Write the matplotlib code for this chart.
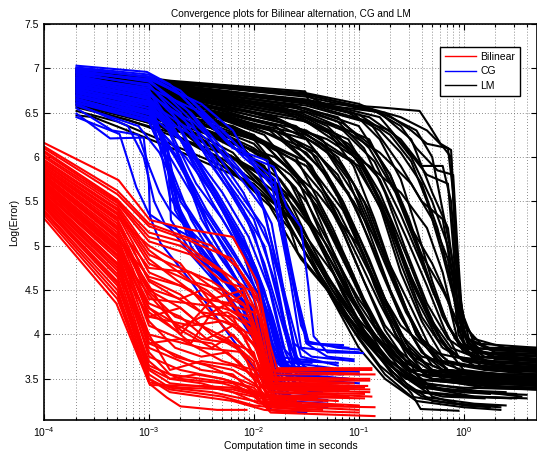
import numpy as np
import matplotlib
matplotlib.use("Agg")
import matplotlib.pyplot as plt
from matplotlib.ticker import LogLocator, FixedLocator, FuncFormatter, NullFormatter
from matplotlib.lines import Line2D

plt.rcParams['font.family'] = ['Liberation Sans', 'DejaVu Sans']

# Each curve: list of (log10(time in s), log(error)) points
bilinear_lines = [
    [(-4,6.16),(-3.29,5.74),(-2.99,5.29),(-2.6,5.18),(-2.2,5.1),(-1.97,4.6),(-1.85,3.9),(-1.78,3.62),(-0.88,3.62)],
    [(-4,6.10),(-3.3,5.58),(-3.0,5.22),(-2.6,5.05),(-2.2,4.85),(-1.92,4.3),(-1.82,3.55),(-0.85,3.55)],
    [(-4,6.05),(-3.3,5.5),(-3.0,5.1),(-2.7,5.0),(-2.3,4.7),(-2.0,4.3),(-1.88,3.7),(-1.8,3.48),(-0.9,3.48)],
    [(-4,6.0),(-3.3,5.45),(-3.0,4.95),(-2.6,4.6),(-2.3,4.5),(-2.0,4.0),(-1.85,3.45),(-1.0,3.42)],
    [(-4,5.95),(-3.3,5.4),(-3.0,4.85),(-2.5,4.4),(-2.2,4.35),(-1.97,3.9),(-1.84,3.35),(-0.88,3.3)],
    [(-4,5.92),(-3.3,5.35),(-3.0,4.7),(-2.6,4.5),(-2.3,4.1),(-2.0,3.75),(-1.88,3.5),(-1.1,3.45)],
    [(-4,5.88),(-3.3,5.3),(-3.0,4.6),(-2.5,4.25),(-2.2,4.2),(-1.93,3.6),(-1.84,3.38),(-0.9,3.35)],
    [(-4,5.85),(-3.3,5.25),(-3.0,4.5),(-2.7,4.3),(-2.4,4.0),(-2.0,3.8),(-1.88,3.3),(-1.2,3.25)],
    [(-4,5.82),(-3.3,5.2),(-3.0,4.4),(-2.6,4.35),(-2.3,4.3),(-2.05,4.2),(-1.88,3.6),(-1.8,3.4),(-0.95,3.4)],
    [(-4,5.8),(-3.3,5.15),(-3.0,4.3),(-2.5,3.95),(-2.2,3.9),(-1.93,3.5),(-1.84,3.25),(-1.0,3.2)],
    [(-4,5.76),(-3.3,5.1),(-3.0,4.2),(-2.6,4.1),(-2.3,4.15),(-2.02,4.0),(-1.88,3.45),(-1.3,3.42)],
    [(-4,5.72),(-3.3,5.05),(-3.0,4.1),(-2.7,3.95),(-2.3,3.7),(-2.0,3.6),(-1.92,3.4),(-1.5,3.35)],
    [(-4,5.7),(-3.3,5.0),(-3.0,4.0),(-2.5,3.85),(-2.1,3.8),(-1.93,3.3),(-1.84,3.2),(-0.85,3.18)],
    [(-4,5.66),(-3.3,4.95),(-3.0,3.9),(-2.6,3.7),(-2.2,3.6),(-2.0,3.45),(-1.88,3.3),(-1.4,3.28)],
    [(-4,5.62),(-3.3,4.9),(-3.0,3.85),(-2.5,3.6),(-2.2,3.55),(-1.97,3.3),(-1.84,3.12),(-0.85,3.08)],
    [(-4,5.6),(-3.3,4.85),(-3.0,3.75),(-2.7,3.6),(-2.3,3.5),(-2.0,3.4),(-1.92,3.3),(-1.6,3.25)],
    [(-4,5.56),(-3.3,4.8),(-3.0,3.65),(-2.7,3.5),(-2.3,3.45),(-2.0,3.35),(-1.84,3.22),(-1.15,3.2)],
    [(-4,5.52),(-3.3,4.72),(-3.0,3.6),(-2.8,3.45),(-2.4,3.4),(-2.0,3.3),(-1.88,3.18),(-1.5,3.15)],
    [(-4,5.48),(-3.3,4.65),(-3.0,3.55),(-2.8,3.4),(-2.4,3.35),(-2.0,3.25),(-1.7,3.22)],
    [(-4,5.45),(-3.3,4.58),(-3.0,3.5),(-2.8,3.38),(-2.3,3.3),(-2.0,3.2),(-1.84,3.18),(-1.35,3.15)],
    [(-4,5.4),(-3.3,4.5),(-3.0,3.46),(-2.7,3.4),(-2.2,3.38),(-1.93,3.3),(-1.6,3.3)],
    [(-4,5.35),(-3.3,4.4),(-2.99,3.44),(-2.83,3.29),(-2.7,3.19),(-2.35,3.15),(-2.07,3.15)],
    [(-4,5.31),(-3.31,4.35),(-2.99,3.43),(-2.5,3.42),(-2.2,3.4),(-1.93,3.32),(-1.2,3.3)],
    [(-4,5.78),(-3.3,5.1),(-3.0,4.55),(-2.7,4.0),(-2.4,4.4),(-2.1,4.5),(-1.97,4.0),(-1.84,3.52),(-1.05,3.5)],
    [(-4,5.68),(-3.3,4.98),(-3.0,4.3),(-2.6,3.9),(-2.4,4.25),(-2.1,4.45),(-1.93,3.9),(-1.82,3.4),(-0.9,3.38)],
    [(-4,5.58),(-3.3,4.8),(-3.0,4.2),(-2.7,4.3),(-2.4,4.0),(-2.1,3.8),(-1.93,3.55),(-1.75,3.45),(-1.2,3.45)],
    [(-4,5.9),(-3.3,5.32),(-3.0,5.0),(-2.7,4.8),(-2.3,4.2),(-2.0,3.9),(-1.88,3.55),(-1.8,3.3),(-0.95,3.28)],
    [(-4,6.02),(-3.3,5.48),(-3.0,5.05),(-2.6,4.9),(-2.3,4.6),(-2.02,4.5),(-1.88,3.95),(-1.8,3.58),(-1.0,3.56)],
    [(-4,5.5),(-3.3,4.68),(-3.0,4.0),(-2.8,3.6),(-2.5,3.7),(-2.2,3.65),(-2.0,3.55),(-1.88,3.35),(-1.25,3.33)],
    [(-4,5.75),(-3.3,5.08),(-3.0,4.65),(-2.7,4.55),(-2.4,4.35),(-2.1,4.05),(-1.93,3.75),(-1.84,3.5),(-1.4,3.5)],
    [(-4,5.64),(-3.3,4.93),(-3.0,4.45),(-2.7,4.05),(-2.4,3.85),(-2.2,4.0),(-1.97,3.7),(-1.88,3.4),(-1.1,3.37)],
    [(-4,5.84),(-3.3,5.22),(-3.0,4.75),(-2.6,4.7),(-2.3,4.45),(-2.05,4.3),(-1.92,3.8),(-1.84,3.42),(-0.92,3.42)],
    [(-4,6.07),(-3.3,5.52),(-3.0,5.15),(-2.7,5.05),(-2.4,4.8),(-2.1,4.55),(-1.95,4.2),(-1.82,3.45),(-1.05,3.45)],
    [(-4,5.97),(-3.3,5.42),(-3.0,4.9),(-2.7,4.75),(-2.4,4.6),(-2.1,4.35),(-1.93,3.85),(-1.85,3.28),(-1.3,3.25)],
    [(-4,5.87),(-3.3,5.28),(-3.0,4.62),(-2.7,4.45),(-2.45,4.2),(-2.15,4.1),(-1.95,3.65),(-1.85,3.35),(-0.95,3.33)],
    [(-4,5.79),(-3.3,5.12),(-3.0,4.48),(-2.75,4.2),(-2.5,4.1),(-2.25,3.95),(-2.0,3.7),(-1.9,3.2),(-1.0,3.15)],
    [(-4,5.73),(-3.3,5.03),(-3.0,4.35),(-2.7,4.2),(-2.45,3.95),(-2.2,4.1),(-1.97,3.85),(-1.86,3.45),(-1.35,3.44)],
    [(-4,5.67),(-3.3,4.96),(-3.0,4.15),(-2.75,3.85),(-2.5,3.75),(-2.25,3.8),(-2.0,3.5),(-1.9,3.25),(-1.55,3.22)],
    [(-4,5.61),(-3.3,4.88),(-3.0,3.95),(-2.75,3.75),(-2.45,3.65),(-2.15,3.5),(-1.95,3.4),(-1.85,3.15),(-1.0,3.12)],
    [(-4,5.55),(-3.3,4.78),(-3.0,3.8),(-2.8,3.55),(-2.5,3.5),(-2.2,3.45),(-1.95,3.28),(-1.7,3.25)],
    [(-4,5.46),(-3.3,4.6),(-3.0,3.7),(-2.8,3.5),(-2.5,3.45),(-2.2,3.35),(-1.95,3.22),(-1.5,3.2)],
    [(-4,5.38),(-3.3,4.45),(-3.0,3.5),(-2.8,3.35),(-2.5,3.3),(-2.2,3.25),(-1.9,3.15),(-1.6,3.12)],
    [(-4,6.12),(-3.3,5.62),(-3.0,5.25),(-2.7,5.12),(-2.4,5.0),(-2.15,4.75),(-1.97,4.45),(-1.85,3.75),(-1.78,3.5),(-0.9,3.5)],
    [(-4,5.93),(-3.3,5.37),(-3.0,4.8),(-2.7,4.65),(-2.45,4.5),(-2.2,4.25),(-2.0,4.1),(-1.9,3.5),(-1.82,3.3),(-1.1,3.3)],
    [(-4,5.83),(-3.3,5.18),(-3.0,4.52),(-2.7,4.4),(-2.5,4.5),(-2.3,4.35),(-2.0,4.25),(-1.88,3.7),(-1.8,3.6),(-0.88,3.6)],
    [(-4,5.71),(-3.3,5.0),(-3.0,4.25),(-2.75,4.05),(-2.5,4.2),(-2.25,4.25),(-2.0,4.05),(-1.9,3.6),(-1.82,3.38),(-1.2,3.37)],
    [(-4,5.53),(-3.3,4.75),(-3.0,3.9),(-2.7,3.95),(-2.4,3.9),(-2.15,3.7),(-1.95,3.45),(-1.85,3.3),(-1.45,3.28)],
    [(-4,5.43),(-3.3,4.55),(-3.0,3.62),(-2.8,3.5),(-2.55,3.55),(-2.3,3.5),(-2.05,3.4),(-1.9,3.3),(-1.7,3.28)],
]

cg_lines = [
    [(-3.69,6.49),(-3.37,6.21),(-3.05,6.22),(-3.0,5.7),(-2.99,5.33),(-2.89,5.03),(-2.6,4.6),(-2.3,4.1),(-2.05,3.7),(-1.9,3.45),(-1.5,3.4)],
    [(-3.69,6.45),(-3.28,6.26),(-3.2,5.96),(-3.12,5.66),(-3.0,5.36),(-2.8,5.2),(-2.6,4.9),(-2.3,4.5),(-2.0,4.0),(-1.85,3.6),(-1.4,3.55)],
    [(-3.69,6.6),(-3.2,6.35),(-3.05,6.0),(-2.95,5.5),(-2.85,5.25),(-2.6,5.1),(-2.4,4.7),(-2.1,4.2),(-1.9,3.8),(-1.7,3.6),(-1.3,3.55)],
    [(-3.69,6.55),(-3.35,6.3),(-3.1,6.25),(-3.0,5.9),(-2.9,5.6),(-2.8,5.4),(-2.5,5.05),(-2.2,4.5),(-1.95,3.9),(-1.8,3.7),(-1.45,3.68)],
    [(-3.69,7.03),(-3.02,6.96),(-2.8,6.82),(-2.13,6.04),(-1.81,5.89),(-1.69,5.44),(-1.55,5.21),(-1.48,4.54),(-1.43,3.98),(-1.3,3.8),(-0.96,3.79)],
    [(-3.69,7.0),(-3.0,6.9),(-2.7,6.7),(-2.2,6.1),(-1.87,5.96),(-1.75,5.2),(-1.6,4.5),(-1.5,3.9),(-1.3,3.75),(-1.05,3.72)],
    [(-3.69,6.98),(-3.0,6.85),(-2.6,6.5),(-2.3,6.1),(-1.95,5.6),(-1.8,4.9),(-1.65,4.2),(-1.55,3.75),(-1.2,3.65)],
    [(-3.69,6.95),(-3.0,6.8),(-2.7,6.5),(-2.4,5.9),(-2.1,5.4),(-1.9,4.8),(-1.7,4.0),(-1.6,3.6),(-1.15,3.55)],
    [(-3.69,6.92),(-3.0,6.75),(-2.8,6.4),(-2.5,5.8),(-2.2,5.2),(-1.95,4.6),(-1.8,3.9),(-1.65,3.5),(-1.1,3.45)],
    [(-3.69,6.9),(-3.0,6.7),(-2.86,6.08),(-2.7,5.5),(-2.4,5.0),(-2.1,4.5),(-1.85,3.8),(-1.7,3.45),(-1.25,3.4)],
    [(-3.69,6.88),(-3.0,6.72),(-2.7,6.45),(-2.45,6.2),(-2.1,5.6),(-1.85,5.0),(-1.7,4.1),(-1.6,3.7),(-1.2,3.68)],
    [(-3.69,6.85),(-3.0,6.65),(-2.8,6.3),(-2.55,5.7),(-2.3,5.3),(-2.0,4.7),(-1.8,4.0),(-1.72,3.55),(-1.3,3.5)],
    [(-3.69,6.82),(-3.0,6.6),(-2.85,6.1),(-2.75,5.4),(-2.5,4.9),(-2.2,4.3),(-1.95,3.85),(-1.8,3.4),(-1.35,3.35)],
    [(-3.69,6.8),(-3.0,6.62),(-2.6,6.3),(-2.3,5.8),(-2.0,5.3),(-1.8,4.6),(-1.65,3.85),(-1.5,3.6),(-1.0,3.58)],
    [(-3.69,6.78),(-3.0,6.55),(-2.8,6.0),(-2.6,5.6),(-2.3,5.0),(-2.0,4.4),(-1.85,3.7),(-1.75,3.3),(-1.4,3.28)],
    [(-3.69,6.75),(-3.0,6.5),(-2.82,6.05),(-2.79,5.29),(-2.59,4.92),(-2.2,4.54),(-2.0,4.17),(-1.81,3.72),(-1.84,3.15),(-1.5,3.12)],
    [(-3.69,6.72),(-3.0,6.55),(-2.7,6.2),(-2.4,5.5),(-2.1,4.9),(-1.9,4.2),(-1.8,3.6),(-1.7,3.25),(-1.3,3.22)],
    [(-3.69,6.7),(-3.0,6.45),(-2.75,6.1),(-2.5,5.3),(-2.2,4.7),(-1.95,4.1),(-1.85,3.5),(-1.75,3.2),(-1.45,3.18)],
    [(-3.69,6.68),(-3.0,6.5),(-2.5,6.2),(-2.2,5.7),(-1.9,5.2),(-1.72,4.5),(-1.6,3.8),(-1.55,3.55),(-1.1,3.5)],
    [(-3.69,6.65),(-3.0,6.4),(-2.8,5.9),(-2.6,5.3),(-2.35,4.8),(-2.05,4.3),(-1.88,3.7),(-1.8,3.35),(-1.6,3.3)],
    [(-3.69,6.62),(-3.0,6.42),(-2.65,6.0),(-2.4,5.6),(-2.05,4.9),(-1.85,4.3),(-1.72,3.7),(-1.6,3.4),(-1.2,3.36)],
    [(-3.69,6.95),(-3.0,6.88),(-2.5,6.6),(-2.2,6.3),(-2.0,5.9),(-1.8,5.5),(-1.65,4.6),(-1.55,3.85),(-1.3,3.82),(-1.0,3.8)],
    [(-3.69,6.86),(-3.0,6.7),(-2.6,6.4),(-2.35,5.9),(-2.15,5.5),(-1.9,5.0),(-1.75,4.3),(-1.62,3.6),(-1.2,3.58)],
    [(-3.69,6.9),(-3.0,6.78),(-2.5,6.5),(-2.1,6.0),(-1.8,5.7),(-1.7,5.0),(-1.58,4.3),(-1.48,3.9),(-1.1,3.85)],
    [(-3.69,6.76),(-3.0,6.6),(-2.75,6.3),(-2.55,5.9),(-2.3,5.4),(-2.05,4.8),(-1.85,4.2),(-1.75,3.7),(-1.25,3.62)],
    [(-3.69,6.7),(-3.0,6.52),(-2.85,6.2),(-2.65,5.8),(-2.4,5.1),(-2.15,4.6),(-1.95,4.0),(-1.82,3.45),(-1.5,3.4)],
    [(-3.69,7.01),(-3.0,6.93),(-2.7,6.75),(-2.35,6.35),(-2.0,5.95),(-1.8,5.75),(-1.7,5.1),(-1.58,4.4),(-1.48,3.92),(-1.2,3.85),(-1.0,3.83)],
    [(-3.69,6.97),(-3.0,6.87),(-2.75,6.6),(-2.45,6.25),(-2.15,5.8),(-1.9,5.4),(-1.75,4.6),(-1.62,3.9),(-1.45,3.75),(-1.05,3.7)],
    [(-3.69,6.93),(-3.0,6.82),(-2.8,6.55),(-2.55,6.0),(-2.3,5.6),(-2.05,5.1),(-1.85,4.5),(-1.72,3.85),(-1.55,3.62),(-1.15,3.6)],
    [(-3.69,6.89),(-3.0,6.76),(-2.85,6.4),(-2.65,5.85),(-2.45,5.3),(-2.2,4.85),(-1.95,4.35),(-1.8,3.8),(-1.65,3.5),(-1.3,3.48)],
    [(-3.69,6.84),(-3.0,6.68),(-2.9,6.3),(-2.8,5.8),(-2.65,5.2),(-2.35,4.75),(-2.05,4.2),(-1.87,3.65),(-1.75,3.35),(-1.4,3.32)],
    [(-3.69,6.79),(-3.0,6.63),(-2.88,6.2),(-2.78,5.6),(-2.6,5.0),(-2.3,4.5),(-2.02,4.0),(-1.85,3.55),(-1.7,3.28),(-1.35,3.25)],
    [(-3.69,6.74),(-3.0,6.58),(-2.65,6.15),(-2.35,5.6),(-2.1,5.1),(-1.9,4.5),(-1.78,3.95),(-1.68,3.6),(-1.25,3.55)],
    [(-3.69,6.69),(-3.0,6.48),(-2.6,6.1),(-2.3,5.45),(-2.05,4.95),(-1.88,4.4),(-1.76,3.8),(-1.65,3.4),(-1.3,3.38)],
    [(-3.69,6.64),(-3.0,6.45),(-2.7,5.95),(-2.45,5.4),(-2.2,4.95),(-1.95,4.45),(-1.82,3.9),(-1.7,3.6),(-1.18,3.55)],
    [(-3.69,6.58),(-3.1,6.35),(-2.9,6.05),(-2.7,5.55),(-2.45,5.1),(-2.15,4.6),(-1.92,4.05),(-1.8,3.75),(-1.4,3.7)],
    [(-3.69,6.99),(-3.0,6.91),(-2.6,6.65),(-2.25,6.25),(-1.95,5.85),(-1.78,5.6),(-1.66,4.8),(-1.55,4.1),(-1.47,3.9),(-1.15,3.88)],
    [(-3.69,6.96),(-3.0,6.86),(-2.65,6.55),(-2.3,6.05),(-2.0,5.65),(-1.83,5.25),(-1.7,4.4),(-1.6,3.72),(-1.45,3.58),(-1.0,3.55)],
    [(-3.69,6.87),(-3.0,6.74),(-2.75,6.45),(-2.5,6.1),(-2.25,5.65),(-2.0,5.15),(-1.82,4.4),(-1.7,3.8),(-1.55,3.45),(-1.2,3.42)],
    [(-3.69,6.81),(-3.0,6.66),(-2.78,6.35),(-2.55,5.95),(-2.3,5.45),(-2.05,4.95),(-1.88,4.2),(-1.76,3.5),(-1.6,3.2),(-1.3,3.18)],
    [(-3.69,6.77),(-3.0,6.6),(-2.82,6.1),(-2.72,5.45),(-2.5,4.95),(-2.25,4.55),(-2.0,4.25),(-1.85,3.9),(-1.75,3.65),(-1.2,3.6)],
    [(-3.69,6.73),(-3.0,6.52),(-2.9,6.15),(-2.8,5.55),(-2.55,5.05),(-2.3,4.65),(-2.05,4.3),(-1.9,3.95),(-1.78,3.55),(-1.1,3.5)],
    [(-3.69,6.66),(-3.0,6.44),(-2.75,6.0),(-2.5,5.45),(-2.25,5.0),(-2.0,4.55),(-1.85,4.15),(-1.72,3.75),(-1.6,3.45),(-1.05,3.4)],
    [(-3.69,6.61),(-3.0,6.4),(-2.85,6.0),(-2.7,5.35),(-2.45,4.85),(-2.15,4.4),(-1.92,3.95),(-1.8,3.6),(-1.65,3.3),(-1.3,3.26)],
    [(-3.69,6.83),(-3.0,6.67),(-2.7,6.3),(-2.45,5.75),(-2.2,5.25),(-1.98,4.75),(-1.82,4.2),(-1.7,3.7),(-1.55,3.5),(-1.0,3.45)],
]

lm_lines = [
    [(-3.69,7.0),(-2.79,6.86),(-1.51,6.74),(-1.48,6.64),(-1.29,6.6),(-0.8,6.56),(-0.42,6.52),(-0.32,6.34),(-0.22,6.15),(-0.12,6.08),(-0.08,5.2),(-0.03,4.2),(0.0,4.0),(0.15,3.84),(0.7,3.8)],
    [(-3.69,6.98),(-2.8,6.84),(-1.5,6.7),(-1.3,6.58),(-0.75,6.5),(-0.5,6.3),(-0.35,6.15),(-0.15,6.1),(-0.1,5.6),(-0.05,4.5),(0.0,3.9),(0.2,3.75),(0.7,3.72)],
    [(-3.69,6.95),(-2.8,6.8),(-1.5,6.65),(-0.8,6.45),(-0.55,6.1),(-0.35,5.8),(-0.15,5.7),(-0.1,5.0),(-0.05,4.2),(0.05,3.85),(0.7,3.82)],
    [(-3.69,6.92),(-2.5,6.75),(-1.5,6.6),(-0.9,6.4),(-0.6,5.9),(-0.4,5.5),(-0.2,5.3),(-0.1,4.6),(-0.05,4.0),(0.1,3.7),(0.7,3.65)],
    [(-3.69,6.9),(-2.5,6.7),(-1.5,6.55),(-1.0,6.35),(-0.7,5.8),(-0.5,5.2),(-0.3,4.8),(-0.15,4.4),(-0.05,3.9),(0.2,3.6),(0.7,3.55)],
    [(-3.69,6.88),(-2.5,6.65),(-1.6,6.45),(-1.1,6.2),(-0.8,5.6),(-0.55,4.9),(-0.35,4.3),(-0.2,3.9),(0.0,3.6),(0.7,3.5)],
    [(-3.69,6.85),(-2.5,6.6),(-1.6,6.35),(-1.2,6.0),(-0.9,5.4),(-0.65,4.6),(-0.45,4.0),(-0.25,3.7),(0.1,3.55),(0.7,3.5)],
    [(-3.69,6.82),(-2.5,6.55),(-1.7,6.25),(-1.3,5.8),(-1.0,5.1),(-0.75,4.4),(-0.55,3.9),(-0.3,3.6),(0.3,3.45),(0.7,3.42)],
    [(-3.69,6.8),(-2.5,6.5),(-1.8,6.1),(-1.4,5.5),(-1.1,4.8),(-0.85,4.1),(-0.6,3.7),(-0.35,3.45),(0.2,3.35),(0.55,3.3)],
    [(-3.69,6.78),(-2.6,6.45),(-1.9,6.0),(-1.5,5.3),(-1.2,4.6),(-0.9,3.9),(-0.65,3.5),(-0.4,3.3),(0.1,3.22),(0.4,3.2)],
    [(-3.69,6.75),(-2.6,6.4),(-1.9,5.9),(-1.55,5.1),(-1.3,4.5),(-1.0,3.85),(-0.75,3.5),(-0.45,3.25),(0.0,3.18),(0.35,3.15)],
    [(-3.69,6.72),(-2.7,6.35),(-1.8,5.7),(-1.58,4.92),(-1.32,4.54),(-1.15,4.28),(-0.83,3.79),(-0.5,3.34),(-0.41,3.16),(-0.05,3.14)],
    [(-3.69,6.7),(-2.7,6.3),(-1.61,5.29),(-1.4,4.8),(-1.1,4.3),(-0.8,3.9),(-0.55,3.6),(-0.3,3.5),(0.3,3.45),(0.7,3.42)],
    [(-3.69,6.47),(-3.53,6.45),(-3.12,6.26),(-2.8,6.11),(-2.0,5.7),(-1.6,5.25),(-1.3,4.6),(-1.0,4.0),(-0.7,3.6),(-0.45,3.35),(0.0,3.3),(0.45,3.28)],
    [(-3.69,6.6),(-3.0,6.4),(-2.5,6.2),(-1.9,5.8),(-1.6,5.5),(-1.3,5.0),(-1.0,4.4),(-0.7,3.9),(-0.4,3.6),(0.2,3.55),(0.7,3.5)],
    [(-3.69,6.65),(-2.8,6.45),(-2.0,6.2),(-1.5,5.9),(-1.2,5.4),(-0.9,4.7),(-0.6,4.0),(-0.4,3.75),(0.0,3.65),(0.7,3.6)],
    [(-3.69,6.68),(-2.5,6.5),(-1.5,6.25),(-1.0,5.9),(-0.7,5.2),(-0.45,4.5),(-0.25,4.0),(-0.1,3.75),(0.3,3.7),(0.7,3.68)],
    [(-3.69,6.96),(-2.5,6.8),(-1.5,6.68),(-0.8,6.5),(-0.5,6.2),(-0.3,5.6),(-0.15,5.2),(-0.05,4.3),(0.03,3.95),(0.3,3.8),(0.7,3.78)],
    [(-3.69,6.93),(-2.5,6.76),(-1.5,6.62),(-0.9,6.45),(-0.6,6.2),(-0.4,5.9),(-0.2,5.9),(-0.12,5.5),(-0.06,4.6),(0.0,4.1),(0.2,3.85),(0.7,3.85)],
    [(-3.69,6.87),(-2.5,6.68),(-1.5,6.5),(-0.9,6.2),(-0.6,5.5),(-0.4,4.9),(-0.2,4.5),(-0.08,4.2),(0.0,3.9),(0.15,3.75),(0.7,3.7)],
    [(-3.69,6.83),(-2.5,6.62),(-1.5,6.4),(-1.0,6.0),(-0.7,5.3),(-0.5,4.6),(-0.3,4.1),(-0.15,3.85),(0.0,3.7),(0.7,3.62)],
    [(-3.69,6.76),(-2.5,6.52),(-1.5,6.2),(-1.1,5.6),(-0.8,4.8),(-0.6,4.2),(-0.4,3.8),(-0.2,3.6),(0.3,3.55),(0.7,3.55)],
    [(-3.69,6.73),(-2.5,6.47),(-1.6,6.0),(-1.25,5.2),(-0.95,4.4),(-0.7,3.85),(-0.5,3.55),(-0.3,3.4),(0.0,3.35),(0.25,3.33)],
    [(-3.69,6.62),(-2.8,6.4),(-1.8,6.0),(-1.4,5.6),(-1.0,5.0),(-0.8,4.5),(-0.6,4.1),(-0.3,3.8),(0.1,3.7),(0.7,3.66)],
    [(-3.69,6.9),(-2.5,6.72),(-1.5,6.58),(-0.95,6.4),(-0.7,6.3),(-0.5,6.0),(-0.3,5.5),(-0.15,5.0),(-0.08,4.5),(0.0,4.0),(0.15,3.75),(0.7,3.7)],
    [(-3.69,6.97),(-2.8,6.83),(-1.5,6.71),(-0.85,6.52),(-0.6,6.35),(-0.45,6.1),(-0.25,5.85),(-0.1,5.8),(-0.06,5.0),(-0.02,4.3),(0.05,3.95),(0.3,3.82),(0.7,3.8)],
    [(-3.69,6.8),(-2.0,6.5),(-1.3,6.2),(-0.9,5.9),(-0.6,5.6),(-0.35,5.2),(-0.2,4.7),(-0.1,4.2),(0.05,3.8),(0.4,3.6),(0.7,3.58)],
    [(-3.69,6.86),(-2.0,6.6),(-1.2,6.35),(-0.8,6.05),(-0.5,5.7),(-0.3,5.3),(-0.15,4.85),(-0.05,4.1),(0.1,3.8),(0.7,3.72)],
    [(-3.69,6.7),(-2.2,6.35),(-1.5,5.95),(-1.15,5.4),(-0.85,4.6),(-0.65,4.0),(-0.45,3.55),(-0.3,3.3),(0.0,3.2),(0.25,3.18)],
    [(-3.69,6.74),(-2.2,6.42),(-1.4,6.05),(-1.05,5.5),(-0.75,4.9),(-0.5,4.3),(-0.3,3.8),(-0.1,3.5),(0.4,3.4),(0.7,3.38)],
    [(-3.69,6.99),(-2.8,6.85),(-1.5,6.72),(-1.0,6.6),(-0.7,6.45),(-0.45,6.3),(-0.3,6.0),(-0.2,5.4),(-0.1,4.8),(0.0,4.2),(0.1,3.9),(0.7,3.85)],
    [(-3.69,6.91),(-2.5,6.74),(-1.7,6.6),(-1.2,6.45),(-0.9,6.1),(-0.65,5.6),(-0.45,5.0),(-0.3,4.5),(-0.15,4.1),(0.0,3.8),(0.7,3.75)],
    [(-3.69,6.84),(-2.5,6.64),(-1.8,6.45),(-1.35,6.2),(-1.05,5.7),(-0.8,5.0),(-0.6,4.4),(-0.4,3.95),(-0.2,3.7),(0.2,3.62),(0.7,3.6)],
    [(-3.69,6.79),(-2.5,6.56),(-1.8,6.3),(-1.45,5.9),(-1.2,5.3),(-0.95,4.6),(-0.75,4.05),(-0.55,3.7),(-0.3,3.5),(0.2,3.45),(0.7,3.44)],
    [(-3.69,6.77),(-2.6,6.5),(-2.0,6.25),(-1.6,5.8),(-1.35,5.1),(-1.1,4.5),(-0.85,4.0),(-0.6,3.6),(-0.35,3.4),(0.1,3.3),(0.6,3.28)],
    [(-3.69,6.71),(-2.7,6.4),(-2.1,6.1),(-1.7,5.6),(-1.45,5.0),(-1.2,4.45),(-0.95,4.0),(-0.7,3.65),(-0.45,3.45),(0.0,3.4),(0.7,3.38)],
    [(-3.69,6.66),(-2.8,6.38),(-2.2,6.0),(-1.8,5.5),(-1.5,4.9),(-1.25,4.4),(-1.0,3.95),(-0.75,3.55),(-0.5,3.3),(-0.1,3.22),(0.3,3.2)],
    [(-3.69,6.63),(-2.9,6.35),(-2.3,5.95),(-1.85,5.45),(-1.55,4.85),(-1.3,4.5),(-1.05,4.1),(-0.8,3.75),(-0.55,3.5),(0.0,3.45),(0.7,3.43)],
    [(-3.69,6.94),(-2.5,6.78),(-1.6,6.65),(-1.1,6.5),(-0.8,6.3),(-0.6,6.05),(-0.4,5.7),(-0.25,5.2),(-0.12,4.6),(-0.02,4.05),(0.15,3.8),(0.7,3.76)],
    [(-3.69,6.89),(-2.5,6.7),(-1.6,6.52),(-1.15,6.3),(-0.85,5.95),(-0.6,5.35),(-0.4,4.8),(-0.22,4.3),(-0.08,3.95),(0.1,3.75),(0.7,3.7)],
    [(-3.69,6.81),(-2.5,6.6),(-1.7,6.38),(-1.3,6.05),(-1.0,5.5),(-0.75,4.8),(-0.55,4.25),(-0.35,3.85),(-0.15,3.6),(0.3,3.52),(0.7,3.5)],
    [(-3.69,6.97),(-2.8,6.84),(-1.5,6.7),(-0.9,6.55),(-0.6,6.45),(-0.35,6.3),(-0.2,6.12),(-0.12,6.0),(-0.09,5.3),(-0.05,4.6),(0.0,4.15),(0.1,3.95),(0.4,3.85),(0.7,3.83)],
    [(-3.69,6.75),(-2.5,6.55),(-1.5,6.3),(-1.05,5.95),(-0.8,5.45),(-0.6,4.7),(-0.4,4.15),(-0.2,3.75),(0.0,3.55),(0.5,3.48),(0.7,3.47)],
    [(-3.69,6.86),(-2.5,6.66),(-1.6,6.48),(-1.1,6.15),(-0.8,5.75),(-0.55,5.1),(-0.35,4.55),(-0.18,4.05),(-0.05,3.75),(0.3,3.65),(0.7,3.64)],
    [(-3.69,6.68),(-2.6,6.45),(-1.9,6.15),(-1.5,5.65),(-1.25,4.95),(-1.0,4.25),(-0.78,3.8),(-0.55,3.45),(-0.3,3.25),(0.05,3.2),(0.35,3.18)],
    [(-3.69,6.52),(-3.3,6.4),(-2.9,6.2),(-2.3,5.9),(-1.9,5.55),(-1.6,5.1),(-1.35,4.6),(-1.1,4.2),(-0.85,3.85),(-0.6,3.55),(-0.35,3.35),(0.1,3.3),(0.5,3.28)],
    [(-3.69,6.56),(-3.2,6.42),(-2.8,6.25),(-2.2,6.0),(-1.8,5.7),(-1.45,5.2),(-1.2,4.7),(-0.95,4.15),(-0.7,3.75),(-0.45,3.55),(0.0,3.5),(0.7,3.48)],
    [(-3.69,6.93),(-2.6,6.77),(-1.6,6.63),(-1.0,6.48),(-0.7,6.25),(-0.5,5.95),(-0.35,5.5),(-0.2,4.9),(-0.08,4.35),(0.05,3.9),(0.3,3.72),(0.7,3.7)],
    [(-3.69,6.87),(-2.5,6.68),(-1.7,6.5),(-1.3,6.3),(-1.05,5.9),(-0.85,5.3),(-0.65,4.6),(-0.45,4.0),(-0.25,3.7),(0.2,3.6),(0.7,3.58)],
    [(-3.69,6.83),(-2.5,6.6),(-1.8,6.35),(-1.45,6.05),(-1.2,5.55),(-0.95,4.9),(-0.75,4.3),(-0.55,3.85),(-0.3,3.6),(0.3,3.5),(0.7,3.5)],
    [(-3.69,6.8),(-2.6,6.55),(-1.9,6.25),(-1.55,5.75),(-1.3,5.2),(-1.05,4.6),(-0.85,4.1),(-0.6,3.75),(-0.35,3.55),(0.3,3.45),(0.7,3.45)],
    [(-3.69,6.76),(-2.6,6.5),(-2.0,6.2),(-1.65,5.7),(-1.42,5.15),(-1.2,4.6),(-0.95,4.05),(-0.7,3.7),(-0.45,3.5),(0.2,3.42),(0.7,3.4)],
    [(-3.69,6.72),(-2.7,6.45),(-2.1,6.1),(-1.75,5.6),(-1.5,5.1),(-1.25,4.7),(-1.0,4.25),(-0.75,3.85),(-0.5,3.6),(0.0,3.55),(0.7,3.52)],
    [(-3.69,6.93),(-2.5,6.74),(-1.6,6.58),(-1.2,6.4),(-0.95,6.1),(-0.75,5.6),(-0.55,4.95),(-0.35,4.35),(-0.15,3.95),(0.1,3.75),(0.7,3.72)],
    [(-3.69,6.9),(-2.5,6.72),(-1.7,6.55),(-1.3,6.35),(-1.0,6.0),(-0.8,5.5),(-0.6,4.8),(-0.4,4.2),(-0.2,3.85),(0.1,3.65),(0.7,3.62)],
    [(-3.69,6.85),(-2.5,6.63),(-1.75,6.42),(-1.35,6.15),(-1.1,5.75),(-0.9,5.15),(-0.7,4.5),(-0.5,4.0),(-0.3,3.65),(0.0,3.5),(0.7,3.46)],
    [(-3.69,6.78),(-2.6,6.52),(-1.85,6.3),(-1.5,5.95),(-1.25,5.45),(-1.0,4.85),(-0.8,4.35),(-0.6,3.9),(-0.4,3.6),(0.0,3.48),(0.6,3.45)],
    [(-3.69,6.74),(-2.7,6.48),(-2.0,6.15),(-1.6,5.65),(-1.38,5.05),(-1.15,4.45),(-0.9,3.95),(-0.65,3.6),(-0.4,3.42),(0.1,3.35),(0.5,3.33)],
    [(-3.69,6.69),(-2.8,6.42),(-2.2,6.05),(-1.78,5.5),(-1.55,5.0),(-1.3,4.55),(-1.05,4.05),(-0.8,3.65),(-0.55,3.4),(-0.2,3.3),(0.2,3.28)],
    [(-3.69,6.95),(-2.5,6.77),(-1.5,6.64),(-1.05,6.5),(-0.8,6.2),(-0.6,5.75),(-0.45,5.2),(-0.3,4.6),(-0.15,4.1),(0.0,3.85),(0.3,3.78),(0.7,3.76)],
    [(-3.69,6.88),(-2.5,6.7),(-1.6,6.5),(-1.2,6.25),(-0.95,5.85),(-0.7,5.25),(-0.5,4.65),(-0.3,4.15),(-0.12,3.85),(0.2,3.7),(0.7,3.66)],
    [(-3.69,6.81),(-2.6,6.58),(-1.8,6.35),(-1.4,6.0),(-1.15,5.5),(-0.9,4.85),(-0.7,4.25),(-0.5,3.8),(-0.25,3.55),(0.3,3.48),(0.7,3.46)],
    [(-3.69,6.66),(-2.8,6.45),(-2.2,6.2),(-1.8,5.9),(-1.5,5.5),(-1.25,4.95),(-1.0,4.35),(-0.75,3.9),(-0.5,3.6),(0.0,3.52),(0.7,3.5)],
    [(-3.69,6.64),(-2.6,6.35),(-2.1,6.05),(-1.75,5.75),(-1.5,5.35),(-1.3,4.9),(-1.1,4.45),(-0.85,4.0),(-0.6,3.7),(-0.3,3.55),(0.3,3.5),(0.7,3.48)],
    [(-3.69,6.59),(-2.7,6.3),(-2.15,5.95),(-1.8,5.6),(-1.58,5.2),(-1.35,4.75),(-1.12,4.35),(-0.9,3.95),(-0.65,3.6),(-0.4,3.4),(0.0,3.35),(0.6,3.32)],
    [(-3.69,6.71),(-2.5,6.45),(-1.95,6.2),(-1.6,5.95),(-1.35,5.6),(-1.15,5.15),(-0.95,4.6),(-0.75,4.1),(-0.5,3.75),(-0.2,3.6),(0.4,3.55),(0.7,3.54)],
    [(-3.69,6.75),(-2.4,6.5),(-1.8,6.3),(-1.45,6.1),(-1.2,5.8),(-1.0,5.35),(-0.8,4.75),(-0.6,4.2),(-0.4,3.8),(-0.15,3.6),(0.4,3.55),(0.7,3.55)],
    [(-3.69,6.82),(-2.3,6.6),(-1.6,6.45),(-1.25,6.25),(-1.0,5.95),(-0.8,5.5),(-0.62,4.95),(-0.45,4.4),(-0.25,3.95),(0.0,3.7),(0.5,3.62),(0.7,3.61)],
    [(-3.69,6.62),(-2.5,6.38),(-2.0,6.1),(-1.65,5.8),(-1.4,5.45),(-1.2,5.0),(-1.0,4.5),(-0.8,4.05),(-0.55,3.7),(-0.3,3.5),(0.2,3.4),(0.7,3.38)],
    [(-3.69,6.9),(-2.4,6.7),(-1.6,6.55),(-1.15,6.38),(-0.9,6.15),(-0.7,5.8),(-0.52,5.3),(-0.35,4.7),(-0.2,4.2),(-0.05,3.9),(0.3,3.75),(0.7,3.73)],
    [(-3.69,6.58),(-2.8,6.28),(-2.3,5.98),(-1.9,5.65),(-1.65,5.3),(-1.45,4.9),(-1.25,4.5),(-1.0,4.1),(-0.75,3.75),(-0.5,3.5),(-0.2,3.38),(0.4,3.35)],
    [(-3.69,6.79),(-2.4,6.55),(-1.75,6.35),(-1.4,6.15),(-1.15,5.9),(-0.95,5.5),(-0.78,4.95),(-0.6,4.4),(-0.4,3.95),(-0.15,3.7),(0.3,3.6),(0.7,3.58)],
    [(-3.69,6.73),(-2.5,6.5),(-1.9,6.28),(-1.5,6.05),(-1.25,5.7),(-1.05,5.2),(-0.85,4.55),(-0.65,4.0),(-0.45,3.7),(-0.2,3.5),(0.3,3.42),(0.7,3.4)],
]

series_names = ['Bilinear', 'CG', 'LM']
series_colors = ['#ff0000', '#0000ff', '#000000']

fig = plt.figure(figsize=(5.37, 4.51), dpi=100)
ax = fig.add_axes([44/537, 1-420/451, 1-44/537, (420-24)/451])

lw = 1.5
for group, color in [(lm_lines, '#000000'), (cg_lines, '#0000ff'), (bilinear_lines, '#ff0000')]:
    for line in group:
        arr = np.array(line)
        ax.plot(10**arr[:, 0], arr[:, 1], color=color, lw=lw, solid_joinstyle='round')

ax.set_xscale('log')
ax.set_xlim(1e-4, 5)
ax.set_ylim(3.036, 7.5)
ax.yaxis.set_major_locator(FixedLocator([3.5, 4, 4.5, 5, 5.5, 6, 6.5, 7, 7.5]))
ax.yaxis.set_major_formatter(FuncFormatter(lambda v, p: '%g' % v))
ax.xaxis.set_major_locator(LogLocator(base=10, numticks=10))
ax.xaxis.set_minor_locator(LogLocator(base=10, subs=np.arange(2, 10), numticks=20))
ax.xaxis.set_minor_formatter(NullFormatter())

grid_style = dict(linestyle=(0, (1, 2.5)), color='0.4', lw=0.6)
ax.grid(True, which='major', **grid_style)
ax.grid(True, which='minor', axis='x', **grid_style)
ax.tick_params(which='both', direction='in', top=True, right=True, labelsize=7.5, width=0.8)
ax.tick_params(which='major', length=4)
ax.tick_params(which='minor', length=2)
for s in ax.spines.values():
    s.set_linewidth(1.2)

ax.set_title('Convergence plots for Bilinear alternation, CG and LM', fontsize=7.2, pad=5)
ax.set_xlabel('Computation time in seconds', fontsize=7.5, labelpad=2)
ax.set_ylabel('Log(Error)', fontsize=7.5, labelpad=4)

handles = [Line2D([0], [0], color=c, lw=1.0) for c in series_colors]
leg = ax.legend(handles, series_names, loc='upper left',
                bbox_to_anchor=((440-44)/493, 1 - (47-24)/396),
                fontsize=7.5, fancybox=False, framealpha=1, edgecolor='black', handlelength=3.0,
                borderpad=0.45, labelspacing=0.45, handletextpad=0.4, borderaxespad=0)
leg.get_frame().set_linewidth(1.0)

fig.savefig('out.png', dpi=100)
